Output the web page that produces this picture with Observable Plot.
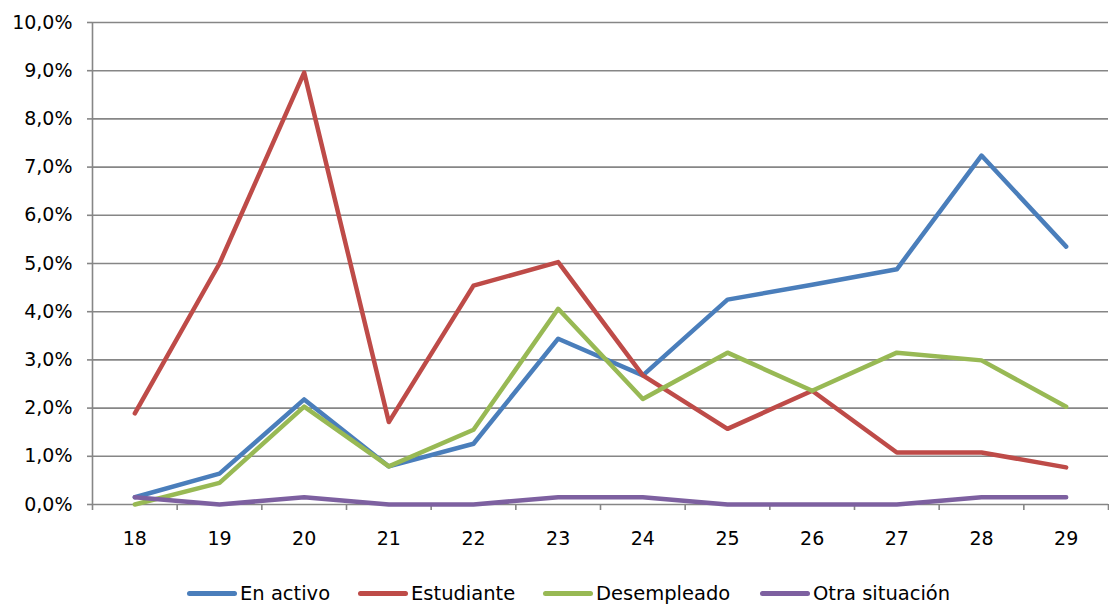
<!DOCTYPE html>
<html>
<head>
<meta charset="utf-8">
<script src="https://cdn.jsdelivr.net/npm/d3@7"></script>
<script src="https://cdn.jsdelivr.net/npm/@observablehq/plot@0.6"></script>
<style>
  html, body { margin: 0; padding: 0; background: #fff; }
  #wrap { position: relative; width: 1109px; height: 604px; font-family: "DejaVu Sans", Verdana, sans-serif; }
  #legend { position: absolute; left: 0; top: 582px; width: 1109px; height: 22px; font-size: 19.5px; color: #000; white-space: nowrap; }
  .item { position: absolute; top: 0; display: flex; align-items: center; height: 22px; }
  .sw { width: 50px; height: 5px; border-radius: 3px; margin-right: 3px; }
</style>
</head>
<body>
<div id="wrap"><div id="chart"></div><div id="legend"></div></div>
<script>
const ages = [18, 19, 20, 21, 22, 23, 24, 25, 26, 27, 28, 29];
const seriesNames = ["En activo", "Estudiante", "Desempleado", "Otra situación"];
const seriesColors = ["#4A7EBB", "#BE4B48", "#98B954", "#7D60A0"];
const enActivo    = [0.15, 0.64, 2.18, 0.79, 1.26, 3.44, 2.68, 4.25, 4.56, 4.88, 7.24, 5.35];
const estudiante  = [1.89, 5.00, 8.96, 1.71, 4.54, 5.03, 2.68, 1.57, 2.36, 1.08, 1.08, 0.77];
const desempleado = [0.00, 0.45, 2.03, 0.79, 1.55, 4.06, 2.19, 3.15, 2.36, 3.15, 2.99, 2.03];
const otra        = [0.15, 0.00, 0.15, 0.00, 0.00, 0.15, 0.15, 0.00, 0.00, 0.00, 0.15, 0.15];
const yTicks = [0, 1, 2, 3, 4, 5, 6, 7, 8, 9, 10];

const allSeries = [enActivo, estudiante, desempleado, otra];
const data = [];
allSeries.forEach((vals, i) => {
  vals.forEach((v, j) => data.push({series: seriesNames[i], age: ages[j], value: v}));
});
const boundaries = [ages[0] - 0.5, ...ages.map(a => a + 0.5)];
const fmt = d => d.toFixed(1).replace(".", ",") + "%";
const gridColor = "#868686";

const chart = Plot.plot({
  width: 1109,
  height: 560,
  marginLeft: 92,
  marginRight: 1,
  marginTop: 22,
  marginBottom: 56,
  style: {fontFamily: "'DejaVu Sans', Verdana, sans-serif", fontSize: "19px", color: "#000", background: "#fff"},
  x: {type: "linear", domain: [boundaries[0], boundaries[boundaries.length - 1]]},
  y: {domain: [0, 10]},
  color: {domain: seriesNames, range: seriesColors},
  marks: [
    Plot.ruleY(yTicks, {stroke: gridColor, strokeWidth: 1.6}),
    Plot.ruleX([boundaries[0]], {y1: 0, y2: 10, stroke: gridColor, strokeWidth: 1.6}),
    Plot.axisY({ticks: yTicks, tickSize: 5, tickPadding: 15, tickFormat: fmt, label: null, stroke: gridColor, strokeWidth: 1.6, strokeOpacity: 1}),
    Plot.axisX({ticks: boundaries, tickSize: 6, tickFormat: () => "", label: null, stroke: gridColor, strokeWidth: 1.6, strokeOpacity: 1}),
    Plot.axisX({ticks: ages, tickSize: 0, tickPadding: 27, tickFormat: d => String(d), label: null}),
    Plot.line(data, {x: "age", y: "value", z: "series", stroke: "series", strokeWidth: 4.5, strokeLinejoin: "round", strokeLinecap: "round"})
  ]
});
document.getElementById("chart").appendChild(chart);

const legendLeft = [187, 358, 543, 760];
const legend = document.getElementById("legend");
seriesNames.forEach((name, i) => {
  const item = document.createElement("div");
  item.className = "item";
  item.style.left = legendLeft[i] + "px";
  const sw = document.createElement("div");
  sw.className = "sw";
  sw.style.background = seriesColors[i];
  const label = document.createElement("span");
  label.textContent = name;
  item.appendChild(sw);
  item.appendChild(label);
  legend.appendChild(item);
});
</script>
</body>
</html>
